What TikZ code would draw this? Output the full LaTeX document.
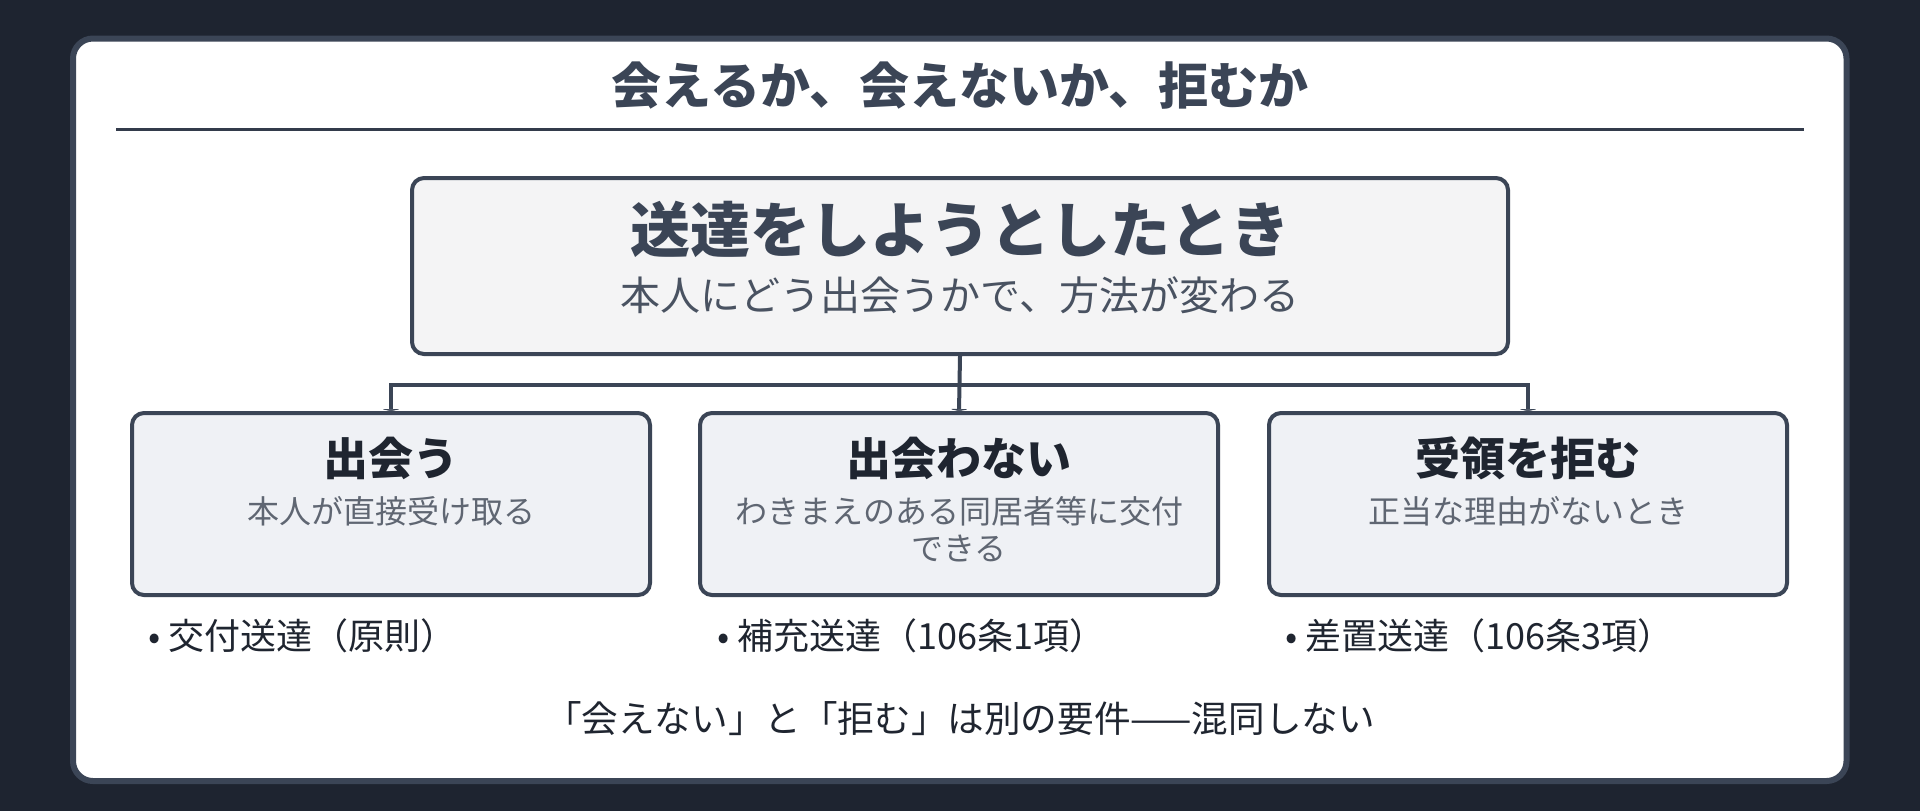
\documentclass[tikz,border=0pt]{standalone}
\usepackage{fontspec}
\setmainfont{Noto Sans CJK JP}
\usetikzlibrary{arrows.meta,positioning}
\definecolor{bgdark}{HTML}{1E2430}
\definecolor{slate}{HTML}{3B4556}
\definecolor{inkdark}{HTML}{1F2530}
\definecolor{subgray}{HTML}{5F6672}
\definecolor{topfill}{HTML}{F4F4F5}
\definecolor{boxfill}{HTML}{EFF1F5}
\tikzset{%
   card/.style={draw=slate, line width=3pt, fill=white, rounded corners=10pt},
   topbox/.style={draw=slate, line width=2pt, fill=topfill, rounded corners=6pt,
     minimum width=548pt, minimum height=88pt, inner sep=0pt},
   casebox/.style={draw=slate, line width=2pt, fill=boxfill, rounded corners=6pt,
     minimum width=259pt, minimum height=91pt, inner sep=0pt},
   casehead/.style={text=inkdark, font=\fontsize{22.5pt}{27pt}\selectfont\bfseries, inner sep=0pt},
   casesub/.style={text=subgray, font=\fontsize{16pt}{18.5pt}\selectfont, align=center, inner sep=0pt},
   bullet/.style={text=inkdark, font=\fontsize{18pt}{21pt}\selectfont, anchor=west, inner sep=0pt},
   conn/.style={draw=slate, line width=2pt},
}
\begin{document}
\begin{tikzpicture}[x=0.5pt, y=-0.5pt]
   \fill[bgdark] (0,0) rectangle (1920,811);
   \useasboundingbox (0,0) rectangle (1920,811);
   \draw[card] (73,38.5) rectangle (1846.5,781);
   % title and rule
   \node[text=slate, font=\fontsize{25pt}{30pt}\selectfont\bfseries, inner sep=0pt] (title) at (960,86) {会えるか、会えないか、拒むか};
   \coordinate (ruleL) at (116,129.5);
   \coordinate (ruleR) at (1804,129.5);
   \draw[draw=slate!70!inkdark, line width=1.5pt] (ruleL) -- (ruleR);
   % top box
   \node[topbox] (top) at (960,266) {};
   \node[text=slate, font=\fontsize{30pt}{36pt}\selectfont\bfseries, inner sep=0pt] (toph) at (960,229) {送達をしようとしたとき};
   \node[text=slate!60!subgray, font=\fontsize{20pt}{24pt}\selectfont, inner sep=0pt] (tops) at (960,295) {本人にどう出会うかで、方法が変わる};
   % three cases
   \node[casebox] (meet) at (391,504) {};
   \node[casebox] (miss) at (959,504) {};
   \node[casebox] (refuse) at (1528,504) {};
   \node[casehead] (meeth) at (391,458) {出会う};
   \node[casehead] (missh) at (959,458) {出会わない};
   \node[casehead] (refuseh) at (1528,458) {受領を拒む};
   \node[casesub, anchor=north] (meets) at (391,496) {本人が直接受け取る};
   \node[casesub, anchor=north] (misss) at (959,496) {わきまえのある同居者等に交付\\できる};
   \node[casesub, anchor=north] (refuses) at (1528,496) {正当な理由がないとき};
   % connectors
   \coordinate (hub) at (960,384.5);
   \draw[conn, -{Triangle[width=10pt,length=1pt]}] (top.south) -- (miss.north);
   \draw[conn, -{Triangle[width=10pt,length=1pt]}] (hub) -| (meet.north);
   \draw[conn, -{Triangle[width=10pt,length=1pt]}] (hub) -| (refuse.north);
   % kinds of service
   \node[bullet] (meetb) at (148,636) {• 交付送達（原則）};
   \node[bullet] (missb) at (717,636) {• 補充送達（106条1項）};
   \node[bullet] (refuseb) at (1285,636) {• 差置送達（106条3項）};
   % note
   \node[text=inkdark, font=\fontsize{18.3pt}{22pt}\selectfont, inner sep=0pt] (note) at (960,719) {「会えない」と「拒む」は別の要件——混同しない};
\end{tikzpicture}
\end{document}
